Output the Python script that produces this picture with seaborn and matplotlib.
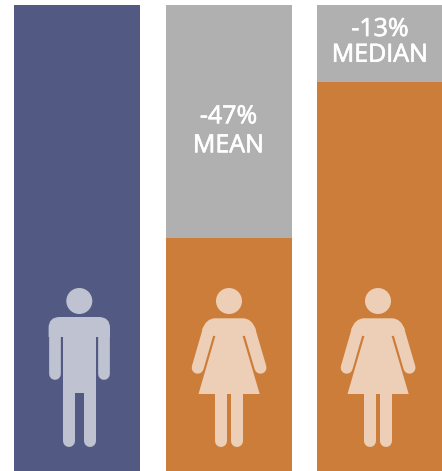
import matplotlib
matplotlib.use("Agg")
import matplotlib.pyplot as plt
import matplotlib.patheffects as pe
import seaborn as sns
from matplotlib.patches import Circle, PathPatch, Polygon, Rectangle
from matplotlib.path import Path
from matplotlib.transforms import Affine2D

categories = ["Men", "Women (mean)", "Women (median)"]
full_pay = [100, 100, 100]
earned = [100, 50, 83.5]
gap_labels = ["", "-47%", "-13%"]
stat_labels = ["", "MEAN", "MEDIAN"]

BLUE, ORANGE, GREY = "#525A83", "#CC7D39", "#B0B0B0"
MAN, WOMAN = "#BFC2D1", "#ECCFB6"

W, H = 442, 471
fig = plt.figure(figsize=(W / 100, H / 100), dpi=100)
ax = fig.add_axes([0, 0, 1, 1])

bar_width = 126 / 151.5
sns.barplot(x=categories, y=full_pay, hue=categories, palette=[BLUE, GREY, GREY],
            width=bar_width, saturation=1, legend=False, ax=ax, linewidth=0)
sns.barplot(x=categories, y=earned, hue=categories, palette=[BLUE, ORANGE, ORANGE],
            width=bar_width, saturation=1, legend=False, ax=ax, linewidth=0)
ax.set_xlim(-77.2 / 151.5, (W - 77.2) / 151.5)
ax.set_ylim(0, 100 * H / 466)
ax.axis("off")

# Icon and text placement uses image pixels, y downward
px = Affine2D().scale(1, -1).translate(0, H)


def add(patch):
    patch.set_transform(px)
    patch.set_linewidth(0)
    fig.add_artist(patch)


def stroke(x0, y0, x1, y1, width, color):
    line = plt.Line2D([x0, x1], [y0, y1], lw=width * 0.72, color=color,
                      solid_capstyle="round", transform=px)
    fig.add_artist(line)


def man(cx):
    c = MAN
    add(Circle((cx, 301), 13, facecolor=c))
    verts = [(cx - 19.5, 317), (cx + 19.5, 317), (cx + 30.7, 317), (cx + 30.7, 328),
             (cx + 30.7, 337), (cx - 30.7, 337), (cx - 30.7, 328), (cx - 30.7, 317), (cx - 19.5, 317)]
    codes = [Path.MOVETO, Path.LINETO, Path.CURVE3, Path.CURVE3, Path.LINETO,
             Path.LINETO, Path.LINETO, Path.CURVE3, Path.CURVE3]
    add(PathPatch(Path(verts, codes), facecolor=c))
    stroke(cx - 24.8, 330, cx - 24.8, 374.2, 11.7, c)
    stroke(cx + 25, 330, cx + 25, 374.2, 11.7, c)
    add(Rectangle((cx - 16.3, 325), 33, 68.3, facecolor=c))
    stroke(cx - 10.4, 390, cx - 10.4, 440.7, 12, c)
    stroke(cx + 10.5, 390, cx + 10.5, 440.7, 12, c)


def woman(cx):
    c = WOMAN
    add(Circle((cx, 301), 13, facecolor=c))
    verts = [(cx - 14, 318.3), (cx + 14, 318.3), (cx + 23, 318.3), (cx + 27, 330),
             (cx + 15, 336), (cx - 15, 336), (cx - 27, 330), (cx - 23, 318.3), (cx - 14, 318.3)]
    codes = [Path.MOVETO, Path.LINETO, Path.CURVE3, Path.CURVE3, Path.LINETO,
             Path.LINETO, Path.LINETO, Path.CURVE3, Path.CURVE3]
    add(PathPatch(Path(verts, codes), facecolor=c))
    add(Polygon([(cx - 13.3, 335), (cx + 13.3, 335), (cx + 30.7, 394), (cx - 30.5, 394)], facecolor=c))
    stroke(cx - 21, 332, cx - 31.3, 367.7, 12, c)
    stroke(cx + 21, 332, cx + 31.5, 367.7, 12, c)
    stroke(cx - 8, 392, cx - 8, 440.7, 12, c)
    stroke(cx + 8.3, 392, cx + 8.3, 440.7, 12, c)


man(79.3)
woman(229)
woman(378)

font = {"family": "Open Sans", "color": "white", "fontsize": 18,
        "ha": "center", "va": "baseline", "transform": px,
        "path_effects": [pe.withStroke(linewidth=0.5, foreground="white")]}
for i, (x, y1, y2) in zip([1, 2], [(228.5, 123.3, 152.3), (380, 36, 61.7)]):
    fig.text(x, y1, gap_labels[i], **font)
    fig.text(x, y2, stat_labels[i], **font)

fig.savefig("out.png", dpi=100, facecolor="white")
